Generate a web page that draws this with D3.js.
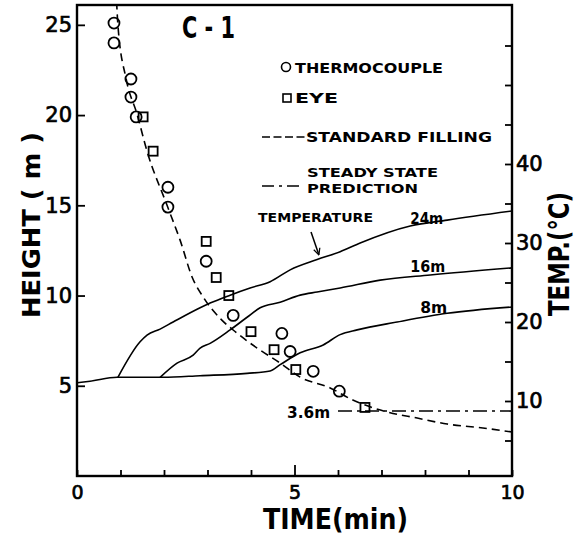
<!DOCTYPE html>
<html>
<head>
<meta charset="utf-8">
<script src="https://cdn.jsdelivr.net/npm/d3@7"></script>
<style>
  body { margin: 0; background: #fff; }
  svg { display: block; }
  text { font-family: "DejaVu Sans", sans-serif; fill: #000; }
</style>
</head>
<body>
<svg id="chart" width="575" height="537"></svg>
<script>
// Smoke layer height under standard filling (dashed curve)
const fillTime   = [0.91, 0.94, 1.13, 1.38, 1.61, 2.07, 2.37, 2.65, 2.9, 3.33, 3.59, 4.14, 4.67, 5.13, 5.82, 6.34, 7.13, 7.82, 8.51, 9.33, 10.0];
const fillHeight = [26.3, 25.0, 22.0, 20.05, 18.0, 15.0, 13.07, 11.0, 9.92, 8.64, 8.09, 7.09, 6.26, 5.48, 4.88, 4.21, 3.55, 3.21, 2.88, 2.66, 2.44];

// Measured interface heights
const tcTime    = [0.85, 0.85, 1.24, 1.24, 1.36, 2.09, 2.09, 2.97, 3.59, 4.71, 4.9, 5.43, 6.03];
const tcHeight  = [25.1, 24.0, 22.0, 21.0, 19.9, 16.0, 14.9, 11.9, 8.9, 7.9, 6.9, 5.8, 4.7];
const eyeTime   = [1.52, 1.75, 2.97, 3.2, 3.49, 4.0, 4.53, 5.03, 6.62];
const eyeHeight = [19.9, 18.0, 13.0, 11.0, 10.0, 8.0, 7.0, 5.9, 3.8];

// Steady state prediction (3.6 m)
const steadyTime   = [6.0, 10.0];
const steadyHeight = [3.6, 3.6];

// Gas temperatures at three elevations (°C)
const temp8Time  = [0, 0.3, 0.92, 1.98, 2.83, 3.91, 4.44, 4.67, 5.13, 5.66, 6.05, 6.44, 7.36, 8.51, 10];
const temp8      = [12.3, 12.5, 13.0, 13.0, 13.2, 13.5, 13.8, 14.6, 16.1, 17.1, 18.4, 19.0, 20.0, 21.1, 21.9];
const temp16Time = [1.91, 2.30, 2.67, 2.83, 3.06, 3.52, 3.91, 4.21, 4.67, 5.13, 5.52, 6.05, 6.97, 8.12, 10];
const temp16     = [13.0, 14.8, 15.8, 16.7, 17.3, 19.0, 20.6, 21.8, 22.5, 23.4, 23.8, 24.3, 25.3, 25.95, 26.85];
const temp24Time = [0.94, 1.45, 1.61, 1.91, 2.21, 2.83, 3.06, 3.52, 3.98, 4.44, 4.9, 5.52, 6.05, 6.51, 7.66, 8.51, 10];
const temp24     = [13.0, 17.5, 18.35, 19.1, 20.0, 21.8, 22.4, 23.4, 24.3, 25.1, 26.6, 27.9, 28.9, 30.0, 32.15, 32.9, 34.05];

// Axis ticks
const heightTicks = [5, 10, 15, 20, 25];
const timeTicks = [0, 1, 2, 3, 4, 5, 6, 7, 8, 9, 10];
const timeLabels = [0, 5, 10];
const tempTicks = [5, 10, 15, 20, 25, 30, 35, 40, 45, 50, 55];
const tempLabels = [10, 20, 30, 40];

const svg = d3.select("#chart");
const L = 77, R = 512, T = 5, B = 476;

const x  = d3.scaleLinear().domain([0, 10]).range([L, R]);
const yH = d3.scaleLinear().domain([0, 26.1]).range([B, T]);
const yT = d3.scaleLinear().domain([0, 60]).range([480, 6]);

const defs = svg.append("defs");
defs.append("clipPath").attr("id", "plot")
  .append("rect").attr("x", L).attr("y", T).attr("width", R - L).attr("height", B - T);

// Axes (ticks point inward)
const axL = svg.append("g").attr("transform", `translate(${L},0)`)
  .call(d3.axisLeft(yH).tickValues(heightTicks).tickSizeInner(-8).tickSizeOuter(0).tickPadding(5));
const axB = svg.append("g").attr("transform", `translate(0,${B})`)
  .call(d3.axisBottom(x).tickValues(timeTicks).tickSizeInner(-6).tickSizeOuter(0).tickPadding(10)
    .tickFormat(d => timeLabels.includes(d) ? d : ""));
const axR = svg.append("g").attr("transform", `translate(${R},0)`)
  .call(d3.axisRight(yT).tickValues(tempTicks).tickSizeInner(-7).tickSizeOuter(0).tickPadding(4)
    .tickFormat(d => tempLabels.includes(d) ? d : ""));

[axL, axB, axR].forEach(g => {
  g.select(".domain").remove();
  g.selectAll(".tick line").attr("stroke", "#000").attr("stroke-width", 1.8);
  g.selectAll(".tick text").attr("font-family", "DejaVu Sans").attr("fill", "#000")
    .attr("stroke", "#000").attr("stroke-width", 0.7);
});
axL.selectAll(".tick text").attr("font-size", 21);
axR.selectAll(".tick text").attr("font-size", 21);
axB.selectAll(".tick text").attr("font-size", 19);
axB.selectAll(".tick line").filter(d => d === 5).attr("y2", -11);

// Frame
svg.append("rect").attr("x", L).attr("y", T).attr("width", R - L).attr("height", B - T)
  .attr("fill", "none").attr("stroke", "#000").attr("stroke-width", 2.4);

const plot = svg.append("g").attr("clip-path", "url(#plot)");

const zip = (a, b) => a.map((v, i) => [v, b[i]]);
const lineH = d3.line().x(d => x(d[0])).y(d => yH(d[1])).curve(d3.curveMonotoneX);
const lineT = d3.line().x(d => x(d[0])).y(d => yT(d[1])).curve(d3.curveMonotoneX);

// Temperature curves
[[temp8Time, temp8], [temp16Time, temp16], [temp24Time, temp24]].forEach(([t, v]) => {
  plot.append("path").datum(zip(t, v)).attr("d", lineT)
    .attr("fill", "none").attr("stroke", "#000").attr("stroke-width", 1.6);
});

// Standard filling
plot.append("path").datum(zip(fillTime, fillHeight)).attr("d", lineH)
  .attr("fill", "none").attr("stroke", "#000").attr("stroke-width", 1.6)
  .attr("stroke-dasharray", "8,5");

// Steady state prediction
plot.append("path").datum(zip(steadyTime, steadyHeight)).attr("d", d3.line().x(d => x(d[0])).y(d => yH(d[1])))
  .attr("fill", "none").attr("stroke", "#000").attr("stroke-width", 1.6)
  .attr("stroke-dasharray", "14,5,3,5");

// Thermocouple points
plot.selectAll("circle.tc").data(zip(tcTime, tcHeight)).join("circle")
  .attr("class", "tc").attr("cx", d => x(d[0])).attr("cy", d => yH(d[1])).attr("r", 5.5)
  .attr("fill", "none").attr("stroke", "#000").attr("stroke-width", 1.8);

// Eye observations
const sq = 9;
plot.selectAll("rect.eye").data(zip(eyeTime, eyeHeight)).join("rect")
  .attr("class", "eye").attr("x", d => x(d[0]) - sq / 2).attr("y", d => yH(d[1]) - sq / 2)
  .attr("width", sq).attr("height", sq)
  .attr("fill", "none").attr("stroke", "#000").attr("stroke-width", 1.8);

// Labels
function label(txt, px, py, size, len, weight) {
  return svg.append("text").attr("x", px).attr("y", py).attr("font-size", size)
    .attr("font-weight", weight || "bold").attr("textLength", len)
    .attr("lengthAdjust", "spacingAndGlyphs").text(txt);
}

label("C - 1", 182, 38, 31, 53);

// Legend
svg.append("circle").attr("cx", 286).attr("cy", 67).attr("r", 4.5)
  .attr("fill", "none").attr("stroke", "#000").attr("stroke-width", 1.6);
label("THERMOCOUPLE", 295, 73, 14, 148);
svg.append("rect").attr("x", 283).attr("y", 94).attr("width", 8).attr("height", 8)
  .attr("fill", "none").attr("stroke", "#000").attr("stroke-width", 1.6);
label("EYE", 295, 103, 14, 43);
svg.append("line").attr("x1", 262).attr("x2", 305).attr("y1", 137).attr("y2", 137)
  .attr("stroke", "#000").attr("stroke-width", 1.6).attr("stroke-dasharray", "8,3.5");
label("STANDARD  FILLING", 306, 142, 14, 186);
svg.append("line").attr("x1", 262).attr("x2", 304).attr("y1", 186).attr("y2", 186)
  .attr("stroke", "#000").attr("stroke-width", 1.6).attr("stroke-dasharray", "12,5,3,5");
label("STEADY  STATE", 307, 177, 13, 131);
label("PREDICTION", 307, 193, 13, 111);

// Curve annotations
label("TEMPERATURE", 258, 222, 13, 115);
defs.append("marker").attr("id", "arrow").attr("viewBox", "0 0 10 10")
  .attr("refX", 9).attr("refY", 5).attr("markerWidth", 8).attr("markerHeight", 8)
  .attr("orient", "auto").attr("markerUnits", "userSpaceOnUse")
  .append("path").attr("d", "M1,1 L9,5 L1,9").attr("fill", "none").attr("stroke", "#000").attr("stroke-width", 1.6);
svg.append("line")
  .attr("x1", x(5.38)).attr("y1", yT(31.4)).attr("x2", x(5.56)).attr("y2", yT(28.5))
  .attr("stroke", "#000").attr("stroke-width", 1.5).attr("marker-end", "url(#arrow)");

label("24m", x(7.66), yT(32.4), 16, 33);
label("16m", x(7.66), yT(26.3), 16, 35);
label("8m", x(7.89), yT(21.2), 16, 27);
label("3.6m", x(4.83), yH(3.21), 16, 43);

// Axis titles
svg.append("text").attr("transform", `translate(40,225) rotate(-90)`)
  .attr("text-anchor", "middle").attr("font-size", 25).attr("font-weight", "bold")
  .attr("textLength", 186).attr("lengthAdjust", "spacingAndGlyphs").text("HEIGHT ( m )");
svg.append("text").attr("transform", `translate(569,254) rotate(-90)`)
  .attr("text-anchor", "middle").attr("font-size", 29).attr("font-weight", "bold")
  .attr("textLength", 124).attr("lengthAdjust", "spacingAndGlyphs").text("TEMP.(°C)");
svg.append("text").attr("x", 263).attr("y", 529)
  .attr("font-size", 28).attr("font-weight", "bold")
  .attr("textLength", 145).attr("lengthAdjust", "spacingAndGlyphs").text("TIME(min)");
</script>
</body>
</html>
